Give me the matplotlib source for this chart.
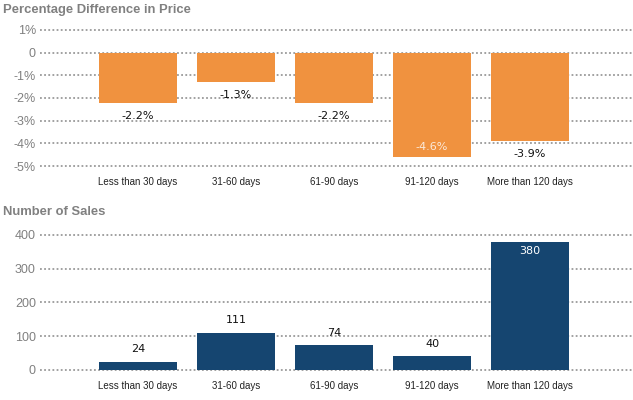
"""Diferencia de precio y número de ventas por días en el mercado."""

import matplotlib
matplotlib.use("Agg")
import matplotlib.pyplot as plt

categorias = ["Less than 30 days", "31-60 days", "61-90 days", "91-120 days", "More than 120 days"]
dif_precio = [-2.2, -1.3, -2.2, -4.6, -3.9]
num_ventas = [24, 111, 74, 40, 380]

ticks_precio = [1, 0, -1, -2, -3, -4, -5]
etiquetas_precio = ["1%", "0", "-1%", "-2%", "-3%", "-4%", "-5%"]
ticks_ventas = [0, 100, 200, 300, 400]

NARANJA = "#F0923F"
AZUL = "#154570"
GRIS = "#808080"
GRID = "#9a9a9a"
W, H = 633, 400


def _ejes(fig, izq, arriba, abajo):
    return fig.add_axes([izq / W, 1 - abajo / H, 1 - izq / W, (abajo - arriba) / H])


def _estilo(ax, ticks, etiquetas):
    ax.set_xlim(-1, 5.05)
    for s in ax.spines.values():
        s.set_visible(False)
    ax.set_yticks(ticks)
    ax.set_yticklabels(etiquetas, fontsize=9, color=GRIS, family="Liberation Sans")
    ax.tick_params(axis="y", length=0, pad=3)
    ax.tick_params(axis="x", length=0, pad=6)
    ax.set_xticks(range(len(categorias)))
    ax.set_xticklabels(categorias, fontsize=7, color="#222222", family="Liberation Sans")
    ax.set_axisbelow(True)
    ax.yaxis.grid(True, linestyle=(0, (1, 1.3)), linewidth=1.3, color=GRID)


fig = plt.figure(figsize=(W / 100, H / 100), dpi=100)

# Gráfico superior
ax1 = _ejes(fig, 40, 27.7, 168.3)
ax1.set_ylim(-5.1, 1.1)
_estilo(ax1, ticks_precio, etiquetas_precio)
ax1.bar(range(len(categorias)), dif_precio, width=0.8, color=NARANJA)
for i, v in enumerate(dif_precio):
    if v - 0.9 < -5:
        ax1.annotate(f"{v:.1f}%", (i, v), xytext=(0, 7), textcoords="offset points",
                     ha="center", va="center", fontsize=8, color="#fbeadb")
    else:
        ax1.annotate(f"{v:.1f}%", (i, v), xytext=(0, -9.5), textcoords="offset points",
                     ha="center", va="center", fontsize=8, color="#111111")
fig.text(3 / W, 1 - 10 / H, "Percentage Difference in Price", fontsize=9.4, fontweight="bold",
         color=GRIS, va="center", ha="left", family="Liberation Sans")

# Gráfico inferior
ax2 = _ejes(fig, 40, 231.6, 372.7)
ax2.set_ylim(-8, 410)
_estilo(ax2, ticks_ventas, [str(t) for t in ticks_ventas])
ax2.bar(range(len(categorias)), num_ventas, width=0.8, color=AZUL)
for i, v in enumerate(num_ventas):
    if v + 30 > 400:
        ax2.annotate(str(v), (i, v), xytext=(0, -7), textcoords="offset points",
                     ha="center", va="center", fontsize=8, color="white")
    else:
        ax2.annotate(str(v), (i, v), xytext=(0, 9), textcoords="offset points",
                     ha="center", va="center", fontsize=8, color="#111111")
fig.text(3 / W, 1 - 212 / H, "Number of Sales", fontsize=9.4, fontweight="bold",
         color=GRIS, va="center", ha="left", family="Liberation Sans")

fig.savefig("out.png", dpi=100)
plt.close(fig)
